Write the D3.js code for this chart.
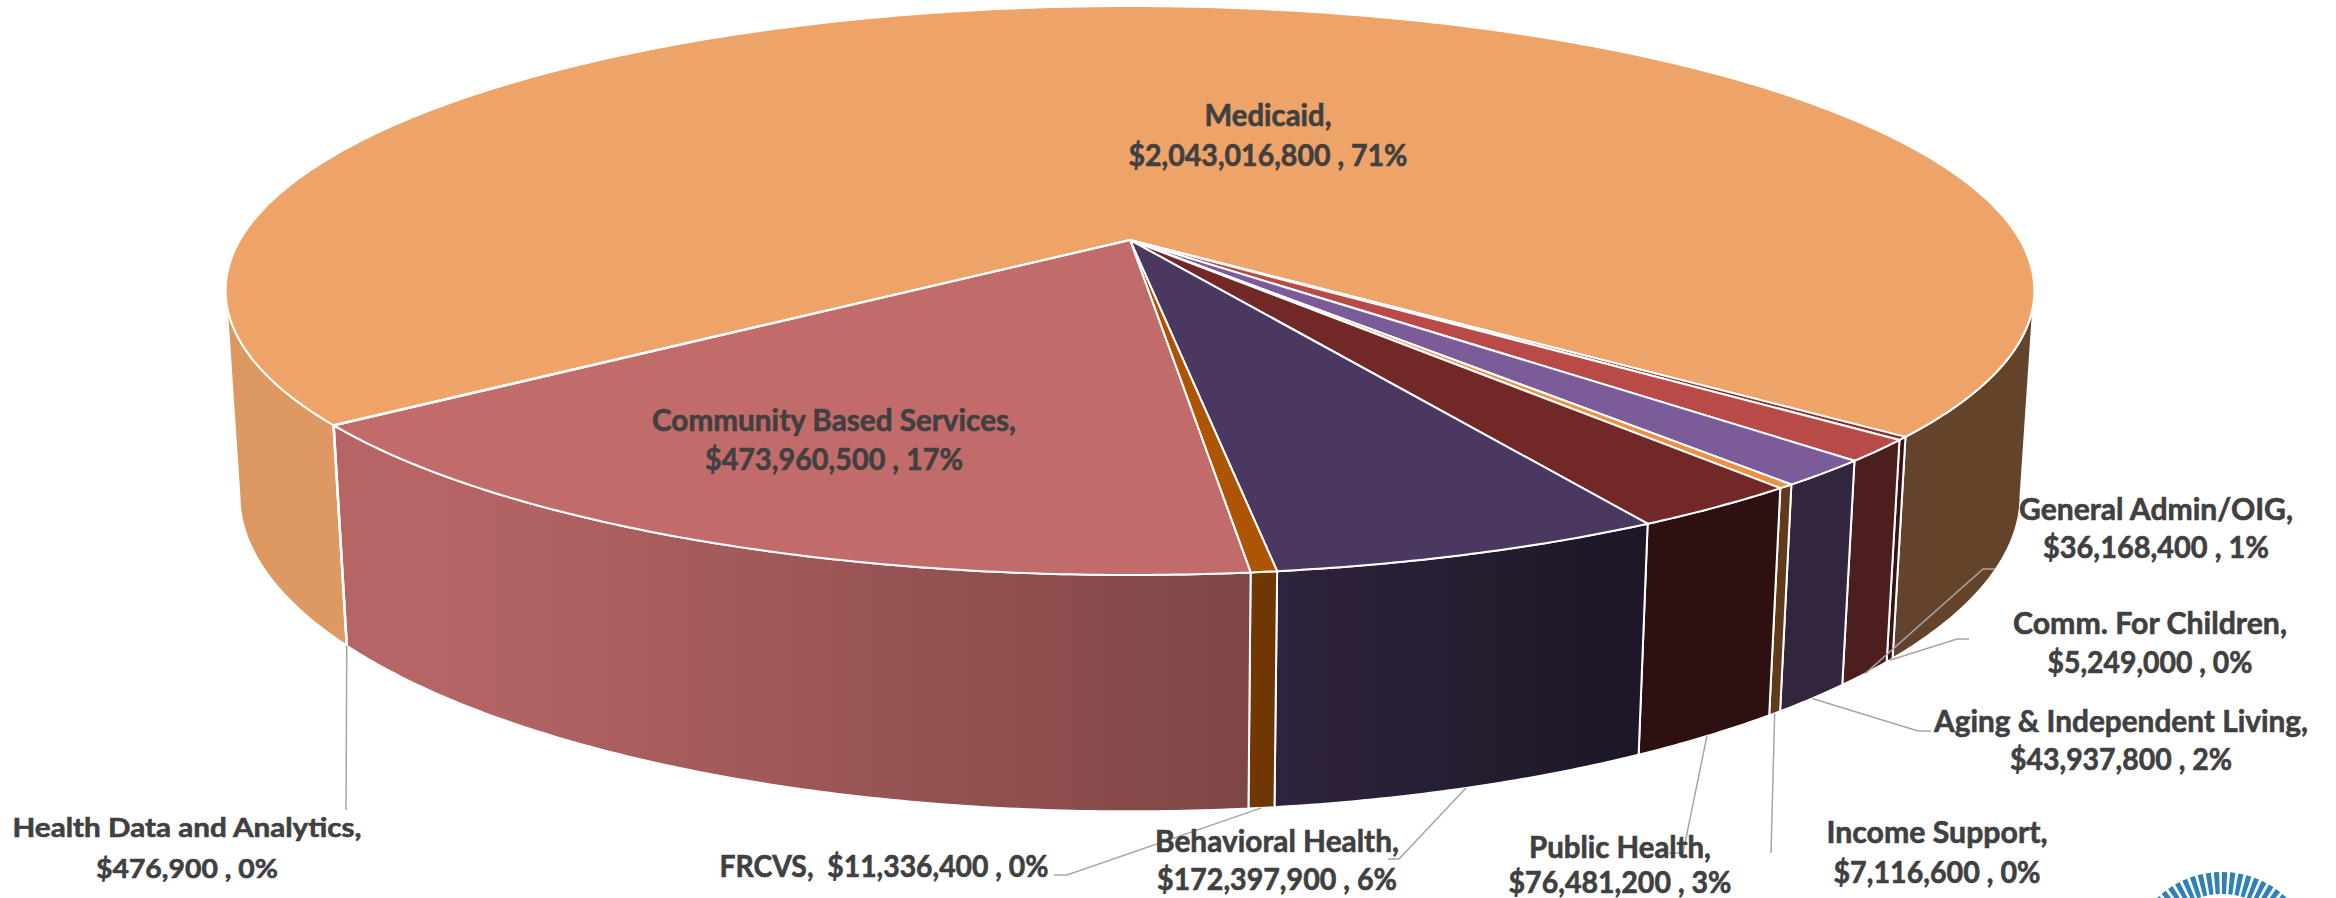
<!DOCTYPE html>
<html>
<head>
<meta charset="utf-8">
<script src="https://cdnjs.cloudflare.com/ajax/libs/d3/7.8.5/d3.min.js"></script>
<style>
  html, body { margin: 0; padding: 0; background: #fff; overflow: hidden; }
  svg { display: block; }
  text { font-family: Lato, "Open Sans", sans-serif; font-weight: 700; fill: #404040; stroke: #404040; stroke-width: 0.6px; white-space: pre; }
</style>
</head>
<body>
<svg></svg>
<script>
// clockwise order, starting from where Medicaid begins
let names = ["Medicaid", "Comm. For Children", "General Admin/OIG", "Aging & Independent Living",
  "Income Support", "Public Health", "Behavioral Health", "FRCVS", "Community Based Services",
  "Health Data and Analytics"]
let values = [2043016800, 5249000, 36168400, 43937800, 7116600, 76481200, 172397900, 11336400, 473960500, 476900]
let topColors = ["#EEA368", "#8B2F2C", "#B84B48", "#7B5C98", "#ED8F3F", "#732828", "#4A3860", "#AE5505", "#C26B6B", "#DD9A62"]

let width = 2336
let height = 898

let svg = d3.select("svg").attr("width", width).attr("height", height)
let defs = svg.append("defs")

// perspective of the disc, fitted to the picture
let cx = 1130, cy = 240
let A = 890, B = 275.5, k = 0.1775
let m = 0.015, n = 203

let rad = d => d * Math.PI / 180

let project = (theta, bottom) => {
    let u = Math.sin(theta)
    let v = -Math.cos(theta)
    let w = 1 - k * v
    if (bottom) return [cx + A * u / (w + m), cy + (B * v + n) / (w + m)]
    return [cx + A * u / w, cy + B * v / w]
}

let samples = (a, b) => {
    let steps = Math.max(2, Math.ceil((b - a) / rad(0.5)))
    return d3.range(steps + 1).map(i => a + (b - a) * i / steps)
}

let line = d3.line()

let pie = d3.pie().sort(null).startAngle(rad(233.1)).endAngle(rad(233.1 + 360))
let arcs = pie(values)
let total = d3.sum(values)

// side wall is lit from the left
let shade = d3.scaleLinear()
    .domain([226, 450, 1250, 1640, 2040])
    .range([0.93, 0.94, 0.65, 0.40, 0.42])

arcs.forEach((d, i) => {
    let g = defs.append("linearGradient")
        .attr("id", "side" + i)
        .attr("gradientUnits", "userSpaceOnUse")
        .attr("x1", 0).attr("x2", width).attr("y1", 0).attr("y2", 0)
    d3.range(200, 2080, 40).forEach(x => {
        let c = d3.rgb(topColors[i])
        let f = shade(x)
        g.append("stop")
            .attr("offset", x / width)
            .attr("stop-color", d3.rgb(c.r * f, c.g * f, c.b * f).formatHex())
    })
})

// only the part of the wall between the two silhouette angles can be seen
let frontStart = Math.PI - Math.acos(k), frontEnd = Math.PI + Math.acos(k)
let sidePieces = d => {
    let out = []
    ;[0, 2 * Math.PI].forEach(off => {
        let a = Math.max(d.startAngle, frontStart + off)
        let b = Math.min(d.endAngle, frontEnd + off)
        if (b > a) out.push([a, b])
    })
    return out
}

let sides = svg.append("g")
arcs.forEach((d, i) => {
    sidePieces(d).forEach(p => {
        let pts = samples(p[0], p[1])
        let outline = pts.map(t => project(t, false)).concat(pts.slice().reverse().map(t => project(t, true)))
        sides.append("path")
            .attr("d", line(outline) + "Z")
            .attr("fill", `url(#side${i})`)
            .attr("stroke", "#fff")
            .attr("stroke-width", 2)
            .attr("stroke-linejoin", "round")
    })
})

let tops = svg.append("g")
arcs.forEach((d, i) => {
    let outline = [[cx, cy]].concat(samples(d.startAngle, d.endAngle).map(t => project(t, false)))
    tops.append("path")
        .attr("d", line(outline) + "Z")
        .attr("fill", topColors[i])
        .attr("stroke", "#fff")
        .attr("stroke-width", 2)
        .attr("stroke-linejoin", "round")
})

// label layout: name -> centre x, the two line centres and the two line widths
let layout = {
    "Medicaid": { x: 1268, y: [116, 156], w: [127, 279] },
    "Community Based Services": { x: 834, y: [421, 460], w: [364, 258] },
    "Health Data and Analytics": { x: 187, y: [827, 868], w: [349, 182], size: 27, leader: [[346, 810]] },
    "FRCVS": { x: 884, y: [867], w: [329], leader: [[1067, 875], [1054, 875]] },
    "Behavioral Health": { x: 1277, y: [842, 880], w: [244, 240], leader: [[1399, 859], [1388, 859]] },
    "Public Health": { x: 1620, y: [848, 883], w: [182, 223], leader: [[1683, 853], [1669, 853]] },
    "Income Support": { x: 1937, y: [833, 873], w: [221, 207], leader: [[1771, 853]] },
    "Aging & Independent Living": { x: 2121, y: [722, 760], w: [374, 222], leader: [[1918, 731], [1931, 731]] },
    "Comm. For Children": { x: 2150, y: [624, 663], w: [274, 205], leader: [[1957, 639], [1969, 639]] },
    "General Admin/OIG": { x: 2156, y: [510, 548], w: [274, 226], leader: [[1983, 569], [1995, 569]] }
}

let leaders = svg.append("g")
let labels = svg.append("g")

arcs.forEach((d, i) => {
    let l = layout[names[i]]
    let pct = Math.round(values[i] / total * 100)
    let amount = "$" + d3.format(",")(values[i]) + " , " + pct + "%"
    let lines = l.y.length == 1 ? [names[i] + ",  " + amount] : [names[i] + ",", amount]

    if (l.leader) {
        let mid = (d.startAngle + d.endAngle) / 2
        leaders.append("path")
            .attr("d", line([project(mid, true)].concat(l.leader)))
            .attr("fill", "none")
            .attr("stroke", "#A6A6A6")
            .attr("stroke-width", 1.5)
    }

    lines.forEach((s, j) => {
        labels.append("text")
            .attr("x", l.x)
            .attr("y", l.y[j])
            .attr("dy", 10)
            .attr("text-anchor", "middle")
            .attr("font-size", l.size || 30)
            .attr("textLength", l.w[j])
            .attr("lengthAdjust", "spacingAndGlyphs")
            .text(s)
    })
})

// logo cut off by the bottom edge
let rayArc = d3.arc().innerRadius(72).outerRadius(94)
let logo = svg.append("g").attr("transform", "translate(2222,966)")
d3.range(-60, 60, 5).forEach(a => {
    logo.append("path")
        .attr("d", rayArc({ startAngle: rad(a), endAngle: rad(a + 3.2) }))
        .attr("fill", "#2E80B8")
})
</script>
</body>
</html>
